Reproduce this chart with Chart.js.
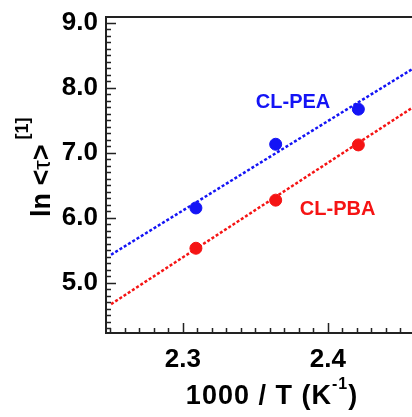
<!DOCTYPE html>
<html>
<head>
<meta charset="utf-8">
<script src="https://cdn.jsdelivr.net/npm/chart.js@4.4.1/dist/chart.umd.min.js"></script>
<style>
    html, body { margin: 0; padding: 0; background: #fff; overflow: hidden; }
    #wrap { width: 412px; height: 417px; overflow: hidden; }
</style>
</head>
<body>
<div id="wrap"><canvas id="arrhenius" width="450" height="417"></canvas></div>
<script>
// measured points: 1000/T and ln<tau>
var invTemp = [2.309, 2.364, 2.421];
var peaValues = [6.15, 7.13, 7.67];
var pbaValues = [5.53, 6.27, 7.12];

// dashed fit lines (end points)
var fitX = [2.2505, 2.4773];
var peaFit = [5.43, 8.55];
var pbaFit = [4.67, 7.97];

var yTicks = [5, 6, 7, 8, 9];
var xTicks = [2.3, 2.4];

var blue = 'rgb(20,20,245)';
var red = 'rgb(245,20,20)';
var FONT = 'Liberation Sans, Arial, Helvetica, sans-serif';

function toPoints(xs, ys) {
    var pts = [];
    for (var i = 0; i < xs.length; i++) {
        pts.push({ x: xs[i], y: ys[i] });
    }
    return pts;
}

// frame, inward ticks, titles and series labels
var decorPlugin = {
    id: 'decor',
    afterDraw: function (chart) {
        var ctx = chart.ctx;
        var area = chart.chartArea;
        var xs = chart.scales.x;
        var ys = chart.scales.y;
        ctx.save();
        ctx.strokeStyle = '#222';
        ctx.lineWidth = 2;
        ctx.beginPath();
        ctx.moveTo(area.right + 20, area.top);
        ctx.lineTo(area.left, area.top);
        ctx.lineTo(area.left, area.bottom);
        ctx.lineTo(area.right + 20, area.bottom);
        ctx.stroke();

        ctx.lineWidth = 1.5;
        ctx.beginPath();
        for (var i = 43; i <= 90; i++) {
            var py = Math.round(ys.getPixelForValue(i / 10)) + 0.5;
            var len = (i % 10 === 0) ? 10 : 5;
            ctx.moveTo(area.left, py);
            ctx.lineTo(area.left + len, py);
        }
        for (var j = 225; j <= 247; j++) {
            var px = Math.round(xs.getPixelForValue(j / 100)) + 0.5;
            var xlen = (j % 10 === 0) ? 10 : 5;
            ctx.moveTo(px, area.bottom);
            ctx.lineTo(px, area.bottom - xlen);
        }
        ctx.stroke();

        // series labels
        ctx.font = 'bold 20px ' + FONT;
        ctx.textAlign = 'center';
        ctx.textBaseline = 'middle';
        ctx.fillStyle = blue;
        ctx.fillText('CL-PEA', xs.getPixelForValue(2.376), ys.getPixelForValue(7.77));
        ctx.fillStyle = red;
        ctx.fillText('CL-PBA', xs.getPixelForValue(2.4067), ys.getPixelForValue(6.12));

        // x title with superscript
        ctx.fillStyle = '#000';
        ctx.textAlign = 'left';
        ctx.textBaseline = 'alphabetic';
        ctx.letterSpacing = '1px';
        var main = '1000 / T (K';
        ctx.font = 'bold 27px ' + FONT;
        var w1 = ctx.measureText(main).width;
        ctx.font = 'bold 16px ' + FONT;
        var w2 = ctx.measureText('-1').width;
        ctx.font = 'bold 27px ' + FONT;
        var w3 = ctx.measureText(')').width;
        var x0 = 272 - (w1 + w2 + w3) / 2;
        ctx.fillText(main, x0, 404);
        ctx.font = 'bold 16px ' + FONT;
        ctx.fillText('-1', x0 + w1, 389);
        ctx.font = 'bold 27px ' + FONT;
        ctx.fillText(')', x0 + w1 + w2, 404);
        ctx.letterSpacing = '0px';

        // y title, rotated
        ctx.translate(50, 217);
        ctx.rotate(-Math.PI / 2);
        var parts = [
            { t: 'ln <', f: 'bold 27px ' + FONT, dy: 0 },
            { t: '\u03c4', f: '24px ' + FONT, dy: 0 },
            { t: '>', f: 'bold 27px ' + FONT, dy: 0 },
            { t: '[1]', f: 'bold 18px ' + FONT, dy: -22 }
        ];
        var cx = 0;
        parts.forEach(function (p) {
            ctx.font = p.f;
            ctx.fillText(p.t, cx, p.dy);
            cx += ctx.measureText(p.t).width + (p.t === '>' ? 5 : 0);
        });
        ctx.restore();
    }
};

var ctx = document.getElementById('arrhenius');
var chart = new Chart(ctx, {
    type: 'scatter',
    data: {
        datasets: [
            {
                label: 'CL-PEA fit',
                type: 'line',
                data: toPoints(fitX, peaFit),
                borderColor: blue,
                borderWidth: 2.5,
                borderDash: [3, 2],
                pointRadius: 0,
                fill: false
            },
            {
                label: 'CL-PBA fit',
                type: 'line',
                data: toPoints(fitX, pbaFit),
                borderColor: red,
                borderWidth: 2.5,
                borderDash: [3, 2],
                pointRadius: 0,
                fill: false
            },
            {
                label: 'CL-PEA',
                data: toPoints(invTemp, peaValues),
                backgroundColor: blue,
                borderColor: blue,
                pointRadius: 6
            },
            {
                label: 'CL-PBA',
                data: toPoints(invTemp, pbaValues),
                backgroundColor: red,
                borderColor: red,
                pointRadius: 6
            }
        ]
    },
    options: {
        responsive: false,
        animation: false,
        layout: { autoPadding: false, padding: { top: 17, right: 10, left: 0, bottom: 0 } },
        plugins: {
            legend: { display: false },
            tooltip: { enabled: false }
        },
        scales: {
            x: {
                type: 'linear',
                min: 2.247,
                max: 2.4773,
                afterFit: function (scale) { scale.height = 84; },
                afterBuildTicks: function (scale) {
                    scale.ticks = xTicks.map(function (v) { return { value: v }; });
                },
                grid: { display: false, drawTicks: false },
                border: { display: false },
                ticks: {
                    padding: 11,
                    color: '#000',
                    font: { family: FONT, size: 26, weight: 'bold' },
                    callback: function (v) { return Number(v).toFixed(1); }
                }
            },
            y: {
                min: 4.226,
                max: 9.088,
                afterFit: function (scale) {
                    scale.width = 106;
                    scale.paddingTop = 0;
                    scale.paddingBottom = 0;
                },
                afterBuildTicks: function (scale) {
                    scale.ticks = yTicks.map(function (v) { return { value: v }; });
                },
                grid: { display: false, drawTicks: false },
                border: { display: false },
                ticks: {
                    padding: 8,
                    color: '#000',
                    font: { family: FONT, size: 26, weight: 'bold', lineHeight: 0.6 },
                    callback: function (v) { return Number(v).toFixed(1); }
                }
            }
        }
    },
    plugins: [decorPlugin]
});
</script>
</body>
</html>
